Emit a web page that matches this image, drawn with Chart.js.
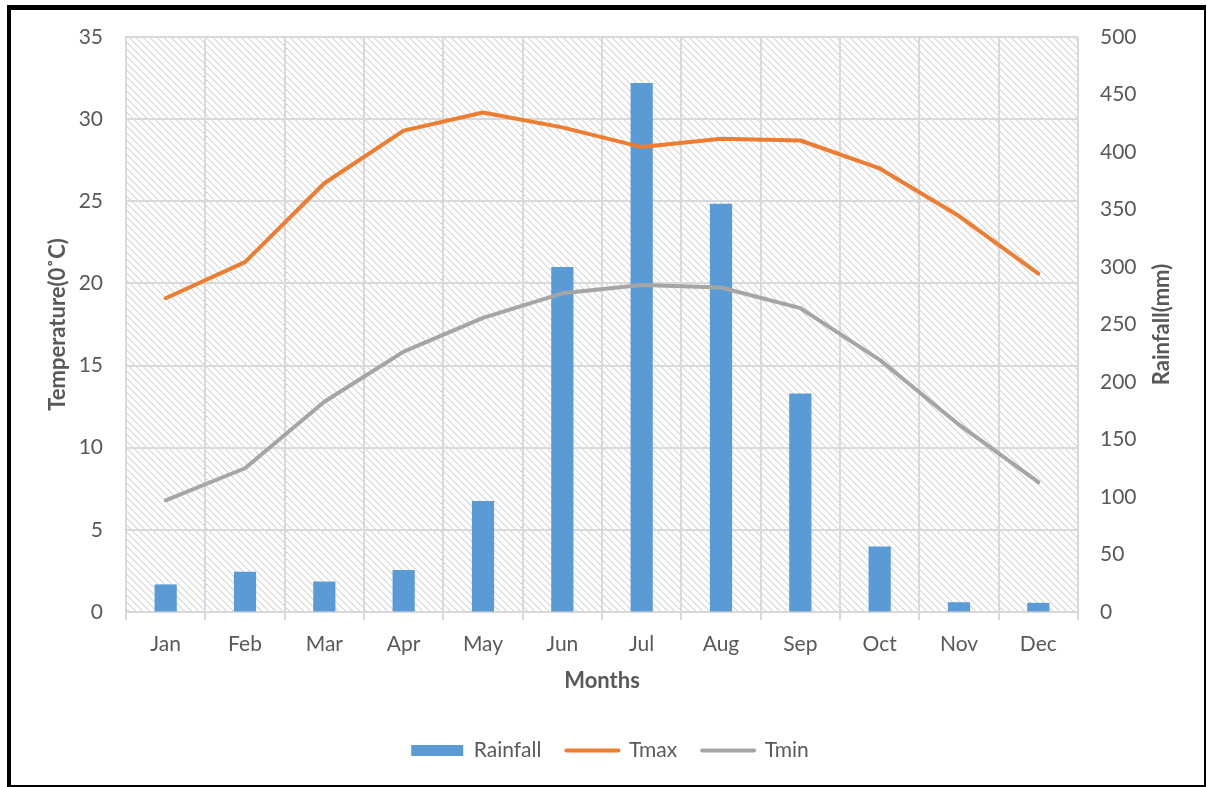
<!DOCTYPE html>
<html>
<head>
<meta charset="utf-8">
<script src="https://cdn.jsdelivr.net/npm/chart.js@4.4.1/dist/chart.umd.min.js"></script>
<style>
  html, body { margin: 0; padding: 0; background: #ffffff; }
  #wrap { position: relative; width: 1207px; height: 787px; overflow: hidden; }
  #chart { position: absolute; left: 0; top: 0; }
  #frame {
    position: absolute; left: 7px; top: 5px; width: 1199px; height: 782px;
    box-sizing: border-box; pointer-events: none;
    border-left: 4px solid #000; border-top: 5px solid #000;
    border-right: 2px solid #000; border-bottom: 2px solid #000;
  }
</style>
</head>
<body>
<div id="wrap">
  <canvas id="chart" width="1207" height="787"></canvas>
  <div id="frame"></div>
</div>
<script>
// Monthly climate data
const months = ['Jan', 'Feb', 'Mar', 'Apr', 'May', 'Jun', 'Jul', 'Aug', 'Sep', 'Oct', 'Nov', 'Dec'];
const rainfall = [24, 35, 26.5, 36.5, 96.5, 300, 460, 355, 190, 57, 8.5, 8];
const tmax = [19.1, 21.3, 26.1, 29.3, 30.4, 29.5, 28.3, 28.8, 28.7, 27.0, 24.1, 20.6];
const tmin = [6.8, 8.75, 12.8, 15.85, 17.9, 19.4, 19.9, 19.75, 18.5, 15.35, 11.4, 7.9];

// Axis ticks
const tempTicks = [0, 5, 10, 15, 20, 25, 30, 35];
const rainTicks = [0, 50, 100, 150, 200, 250, 300, 350, 400, 450, 500];

const FONT = 'Lato, "Open Sans", sans-serif';
const TEXT = '#595959';
const GRID = '#d9d9d9';
const TITLE_FONT = { family: FONT, size: 22, weight: 'bold' };

// Diagonal hatch fill for the plot area
function makeHatch() {
  const p = 7;
  const c = document.createElement('canvas');
  c.width = p; c.height = p;
  const g = c.getContext('2d');
  g.fillStyle = '#ffffff';
  g.fillRect(0, 0, p, p);
  g.fillStyle = '#e0e0e0';
  for (let i = 0; i < p; i++) {
    g.fillRect(i, i, 1, 1);
    g.fillRect((i + 1) % p, i, 1, 1);
  }
  return c;
}

const plotBackground = {
  id: 'plotBackground',
  beforeDraw(chart) {
    const { ctx, chartArea: a } = chart;
    ctx.save();
    ctx.fillStyle = '#ffffff';
    ctx.fillRect(0, 0, chart.width, chart.height);
    ctx.fillStyle = ctx.createPattern(makeHatch(), 'repeat');
    ctx.fillRect(a.left, a.top, a.right - a.left, a.bottom - a.top);
    ctx.restore();
  }
};

// Right-hand axis title, read bottom to top like the left one
const rightTitle = {
  id: 'rightTitle',
  afterDraw(chart) {
    const s = chart.scales.y1;
    const { ctx } = chart;
    ctx.save();
    ctx.translate(s.right - 15, (s.top + s.bottom) / 2);
    ctx.rotate(-Math.PI / 2);
    ctx.font = `bold ${TITLE_FONT.size}px ${FONT}`;
    ctx.fillStyle = TEXT;
    ctx.textAlign = 'center';
    ctx.textBaseline = 'middle';
    ctx.fillText('Rainfall(mm)', 0, 0);
    ctx.restore();
  }
};

const ticksFrom = (list) => (scale) => {
  scale.ticks = list.map(v => ({ value: v }));
};

new Chart(document.getElementById('chart'), {
  type: 'bar',
  data: {
    labels: months,
    datasets: [
      {
        type: 'bar', label: 'Rainfall', data: rainfall, yAxisID: 'y1',
        backgroundColor: '#5b9bd5', borderWidth: 0,
        barPercentage: 0.28, categoryPercentage: 1, order: 2
      },
      {
        type: 'line', label: 'Tmax', data: tmax, yAxisID: 'y',
        borderColor: '#ed7d31', backgroundColor: '#ed7d31', borderWidth: 4,
        borderCapStyle: 'round', borderJoinStyle: 'round',
        pointRadius: 0, tension: 0, order: 1
      },
      {
        type: 'line', label: 'Tmin', data: tmin, yAxisID: 'y',
        borderColor: '#a5a5a5', backgroundColor: '#a5a5a5', borderWidth: 4,
        borderCapStyle: 'round', borderJoinStyle: 'round',
        pointRadius: 0, tension: 0, order: 1
      }
    ]
  },
  options: {
    responsive: false,
    animation: false,
    devicePixelRatio: 1,
    layout: { padding: { left: 43, right: 30, top: 37, bottom: 16 } },
    plugins: {
      tooltip: { enabled: false },
      legend: {
        position: 'bottom',
        labels: {
          font: { family: FONT, size: 21 },
          color: TEXT,
          usePointStyle: true,
          pointStyleWidth: 52,
          boxHeight: 11,
          padding: 25,
          generateLabels(chart) {
            return chart.data.datasets.map((ds, i) => ({
              text: ds.label,
              datasetIndex: i,
              fillStyle: ds.backgroundColor,
              strokeStyle: ds.type === 'bar' ? ds.backgroundColor : ds.borderColor,
              lineWidth: ds.type === 'bar' ? 0 : 4,
              lineCap: 'round',
              pointStyle: ds.type === 'bar' ? 'rect' : 'line',
              fontColor: TEXT,
              hidden: false
            }));
          }
        }
      }
    },
    scales: {
      x: {
        offset: true,
        grid: { offset: true, color: GRID, lineWidth: 2, tickLength: 8, drawTicks: true },
        border: { color: GRID, width: 2 },
        ticks: { font: { family: FONT, size: 21 }, color: TEXT, padding: 12 },
        title: {
          display: true, text: 'Months', color: TEXT,
          font: TITLE_FONT,
          padding: { top: 4, bottom: 21 }
        },
        afterFit(scale) { scale.height = 103; }
      },
      y: {
        position: 'left', min: 0, max: 35,
        afterBuildTicks: ticksFrom(tempTicks),
        grid: { color: GRID, lineWidth: 2, drawTicks: false },
        border: { color: GRID, width: 2 },
        ticks: { font: { family: FONT, size: 21 }, color: TEXT, padding: 23 },
        title: {
          display: true, text: 'Temperature(0˚C)', color: TEXT,
          font: TITLE_FONT,
          padding: { top: 2, bottom: 4 }
        },
        afterFit(scale) { scale.width = 83; }
      },
      y1: {
        position: 'right', min: 0, max: 500,
        afterBuildTicks: ticksFrom(rainTicks),
        grid: { drawOnChartArea: false, drawTicks: false },
        border: { display: false },
        ticks: { font: { family: FONT, size: 21 }, color: TEXT, padding: 22 },
        afterFit(scale) { scale.width = 99; }
      }
    }
  },
  plugins: [plotBackground, rightTitle]
});
</script>
</body>
</html>
